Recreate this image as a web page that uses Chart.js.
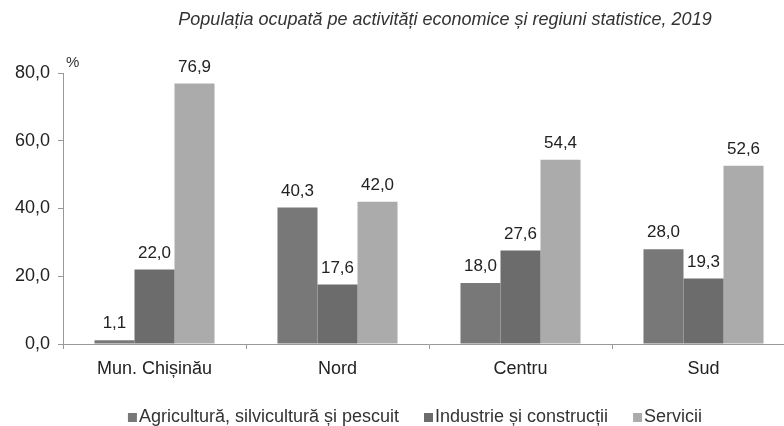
<!DOCTYPE html>
<html>
<head>
<meta charset="utf-8">
<script src="https://cdn.jsdelivr.net/npm/chart.js@4.4.1/dist/chart.umd.min.js"></script>
<style>
    html, body { margin: 0; padding: 0; background: #fff; overflow: hidden; }
    #wrap { width: 840px; height: 426px; position: relative; }
</style>
</head>
<body>
<div id="wrap"><canvas id="chart"></canvas></div>
<script>
// Date
const categories = ['Mun. Chișinău', 'Nord', 'Centru', 'Sud'];
const seriesNames = ['Agricultură, silvicultură și pescuit', 'Industrie și construcții', 'Servicii'];
const agricultura = [1.1, 40.3, 18.0, 28.0];
const industrie = [22.0, 17.6, 27.6, 19.3];
const servicii = [76.9, 42.0, 54.4, 52.6];
const yTicks = [0, 20, 40, 60, 80];

const titleText = 'Populația ocupată pe activități economice și regiuni statistice, 2019';
const colors = ['#787878', '#6c6c6c', '#ababab'];
const FONT = 'Arial, "Liberation Sans", sans-serif';

function fmt(v) {
    return v.toFixed(1).replace('.', ',');
}

// Titlu, "%", etichete de valori si legenda
const extras = {
    id: 'extras',
    afterDatasetsDraw(chart) {
        const ctx = chart.ctx;
        ctx.save();
        ctx.fillStyle = '#333';

        // titlu
        ctx.font = 'italic 18px ' + FONT;
        ctx.textAlign = 'center';
        ctx.textBaseline = 'middle';
        ctx.fillText(titleText, 445, 20);

        // unitatea de masura
        const yScale = chart.scales.y;
        ctx.font = '15px ' + FONT;
        ctx.textAlign = 'left';
        ctx.fillText('%', chart.chartArea.left + 3, yScale.getPixelForValue(80) - 10);

        // valori deasupra coloanelor
        ctx.fillStyle = '#222';
        ctx.font = '17px ' + FONT;
        ctx.textAlign = 'center';
        ctx.textBaseline = 'bottom';
        chart.data.datasets.forEach((ds, i) => {
            chart.getDatasetMeta(i).data.forEach((bar, j) => {
                ctx.fillText(fmt(ds.data[j]), bar.x, bar.y - 8);
            });
        });

        // legenda
        ctx.font = '18px ' + FONT;
        ctx.textAlign = 'left';
        ctx.textBaseline = 'alphabetic';
        const box = 9, boxGap = 2, itemGap = 25;
        const widths = seriesNames.map(n => ctx.measureText(n).width);
        const total = widths.reduce((a, w) => a + box + boxGap + w, 0) + itemGap * (seriesNames.length - 1);
        let x = 415 - total / 2;
        const baseY = 422;
        seriesNames.forEach((name, i) => {
            ctx.fillStyle = colors[i];
            ctx.fillRect(x, baseY - box, box, box);
            x += box + boxGap;
            ctx.fillStyle = '#333';
            ctx.fillText(name, x, baseY);
            x += widths[i] + itemGap;
        });
        ctx.restore();
    }
};

const ctx = document.getElementById('chart').getContext('2d');
new Chart(ctx, {
    type: 'bar',
    data: {
        labels: categories,
        datasets: [
            { label: seriesNames[0], data: agricultura, backgroundColor: colors[0] },
            { label: seriesNames[1], data: industrie, backgroundColor: colors[1] },
            { label: seriesNames[2], data: servicii, backgroundColor: colors[2] },
        ],
    },
    options: {
        responsive: true,
        maintainAspectRatio: false,
        animation: false,
        layout: { padding: { top: 73, bottom: 46 } },
        datasets: {
            bar: { categoryPercentage: 0.656, barPercentage: 1.0 },
        },
        plugins: {
            legend: { display: false },
            tooltip: { enabled: false },
        },
        scales: {
            x: {
                afterFit(scale) { scale.height = 36; },
                grid: {
                    display: true,
                    drawOnChartArea: false,
                    tickLength: 5,
                    color: '#999',
                },
                border: { color: '#999' },
                ticks: {
                    color: '#222',
                    padding: 9,
                    font: { family: FONT, size: 18 },
                },
            },
            y: {
                min: 0,
                max: 80,
                afterFit(scale) { scale.width = 63; },
                afterBuildTicks(scale) {
                    scale.ticks = yTicks.map(v => ({ value: v }));
                },
                grid: {
                    display: true,
                    drawOnChartArea: false,
                    tickLength: 5,
                    color: '#999',
                },
                border: { color: '#999' },
                ticks: {
                    color: '#222',
                    padding: 8,
                    font: { family: FONT, size: 18 },
                    callback: (v) => fmt(v),
                },
            },
            y2: {
                position: 'right',
                afterFit(scale) { scale.width = 45; },
                grid: { display: false },
                border: { display: false },
                ticks: { display: false },
            },
        },
    },
    plugins: [extras],
});
</script>
</body>
</html>
